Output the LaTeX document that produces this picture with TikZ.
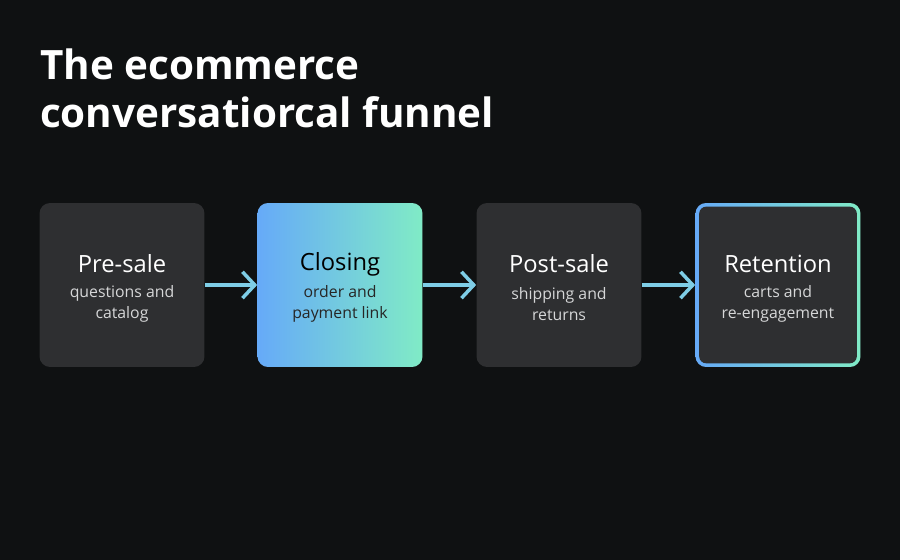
\documentclass[tikz,border=0pt]{standalone}
\usepackage{fontspec}
\setmainfont{Open Sans}
\usetikzlibrary{positioning,arrows.meta}
\definecolor{bgdark}{HTML}{0F1112}
\definecolor{boxgray}{HTML}{2E2F31}
\definecolor{stepblue}{HTML}{66AAF8}
\definecolor{stepgreen}{HTML}{80EBC6}
\definecolor{flowarrow}{HTML}{7ECDE6}
\definecolor{subgray}{HTML}{D6D7D8}
\begin{document}
\begin{tikzpicture}[x=0.02cm,y=0.02cm,
  stage/.style={rounded corners=6pt, minimum width=3.3cm, minimum height=3.28cm,
    fill=boxgray, draw=none},
  head/.style={font=\fontsize{13.5}{15}\selectfont, text=white},
  sub/.style={font=\fontsize{9}{11.5}\selectfont, text=subgray, align=center},
  flow/.style={-{Straight Barb[length=7pt,width=15pt]}, line width=2pt, draw=flowarrow}]
\fill[bgdark] (0,0) rectangle (900,560);
\useasboundingbox (0,0) rectangle (900,560);
% title
\node[anchor=north west, text=white, align=left,
  font=\fontsize{23}{27}\selectfont\bfseries] (title) at (34,517)
  {The ecommerce\\conversatiorcal funnel};
% stages
\node[stage] (presale) at (122,275) {};
\node[stage, left color=stepblue, right color=stepgreen] (closing) at (340,275) {};
\node[stage] (postsale) at (559,275) {};
\node[stage, left color=stepblue, right color=stepgreen] (retention) at (778,275) {};
\fill[boxgray, rounded corners=4pt] ([shift={(4,4)}]retention.south west) rectangle ([shift={(-4,-4)}]retention.north east);
% labels
\node[head] at (122,296) {Pre-sale};
\node[sub] at (122,256) {questions and\\catalog};
\node[head, text=black] at (340,296) {Closing};
\node[sub, text=black!85] at (340,256) {order and\\payment link};
\node[head] at (559,296) {Post-sale};
\node[sub] at (559,256) {shipping and\\returns};
\node[head] at (778,296) {Retention};
\node[sub] at (778,256) {carts and\\re-engagement};
% arrows
\draw[flow] (presale.east) -- (closing.west);
\draw[flow] (closing.east) -- (postsale.west);
\draw[flow] (postsale.east) -- (retention.west);
\end{tikzpicture}
\end{document}
